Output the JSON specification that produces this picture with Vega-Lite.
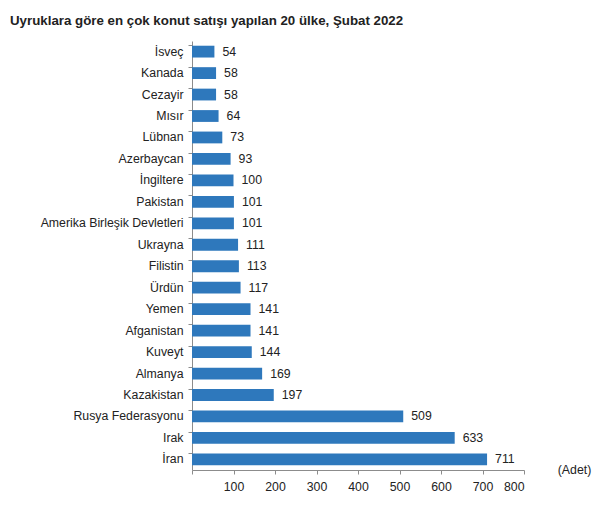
{
  "$schema": "https://vega.github.io/schema/vega-lite/v6.json",
  "autosize": "none",
  "width": 332,
  "height": 429,
  "padding": {"left": 192, "top": 41, "right": 83, "bottom": 36},
  "title": {
    "text": "Uyruklara göre en çok konut satışı yapılan 20 ülke, Şubat 2022",
    "anchor": "start",
    "frame": "group",
    "dx": -182,
    "offset": 14,
    "font": "Liberation Sans",
    "fontSize": 13.3,
    "fontWeight": "bold",
    "color": "#222222"
  },
  "data": {
    "values": [
      {"ulke": "İsveç", "adet": 54},
      {"ulke": "Kanada", "adet": 58},
      {"ulke": "Cezayir", "adet": 58},
      {"ulke": "Mısır", "adet": 64},
      {"ulke": "Lübnan", "adet": 73},
      {"ulke": "Azerbaycan", "adet": 93},
      {"ulke": "İngiltere", "adet": 100},
      {"ulke": "Pakistan", "adet": 101},
      {"ulke": "Amerika Birleşik Devletleri", "adet": 101},
      {"ulke": "Ukrayna", "adet": 111},
      {"ulke": "Filistin", "adet": 113},
      {"ulke": "Ürdün", "adet": 117},
      {"ulke": "Yemen", "adet": 141},
      {"ulke": "Afganistan", "adet": 141},
      {"ulke": "Kuveyt", "adet": 144},
      {"ulke": "Almanya", "adet": 169},
      {"ulke": "Kazakistan", "adet": 197},
      {"ulke": "Rusya Federasyonu", "adet": 509},
      {"ulke": "Irak", "adet": 633},
      {"ulke": "İran", "adet": 711}
    ]
  },
  "encoding": {
    "y": {
      "field": "ulke",
      "type": "nominal",
      "sort": null,
      "scale": {"paddingInner": 0.45, "paddingOuter": 0.22},
      "axis": {
        "title": null,
        "bandPosition": 0,
        "tickSize": 4,
        "labelPadding": 5,
        "domainColor": "#8c8c8c",
        "tickColor": "#8c8c8c",
        "labelFont": "Liberation Sans",
        "labelFontSize": 12.3,
        "labelColor": "#222222"
      }
    },
    "x": {
      "field": "adet",
      "type": "quantitative",
      "scale": {"domain": [0, 800], "nice": false},
      "axis": {
        "values": [0, 100, 200, 300, 400, 500, 600, 700, 800],
        "labelExpr": "datum.value == 0 ? '' : datum.label",
        "grid": false,
        "tickSize": 4,
        "labelPadding": 6,
        "labelDx": 3,
        "domainColor": "#8c8c8c",
        "tickColor": "#8c8c8c",
        "labelFont": "Liberation Sans",
        "labelFontSize": 12.3,
        "labelColor": "#222222",
        "title": "(Adet)",
        "titleX": 382,
        "titleY": -1,
        "titleAlign": "center",
        "titleBaseline": "middle",
        "titleFont": "Liberation Sans",
        "titleFontSize": 12.3,
        "titleFontWeight": "normal",
        "titleColor": "#222222"
      }
    }
  },
  "layer": [
    {"mark": {"type": "bar", "color": "#2E78BC"}},
    {
      "mark": {
        "type": "text",
        "align": "left",
        "baseline": "middle",
        "dx": 8,
        "font": "Liberation Sans",
        "fontSize": 12.3,
        "color": "#222222"
      },
      "encoding": {"text": {"field": "adet", "type": "quantitative"}}
    }
  ],
  "config": {"view": {"stroke": null}}
}
